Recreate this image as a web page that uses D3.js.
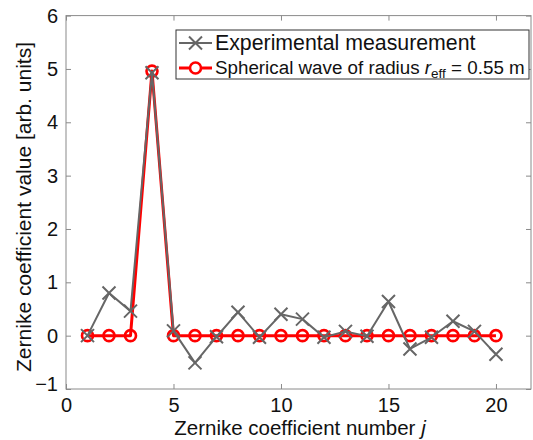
<!DOCTYPE html>
<html>
<head>
<meta charset="utf-8">
<script src="https://cdn.jsdelivr.net/npm/d3@7/dist/d3.min.js"></script>
<style>
  html, body { margin: 0; padding: 0; background: #fff; }
  svg { display: block; font-family: "Liberation Sans", Arial, sans-serif; }
</style>
</head>
<body>
<svg id="chart" width="533" height="440"></svg>
<script>
const j = [1,2,3,4,5,6,7,8,9,10,11,12,13,14,15,16,17,18,19,20];
const experimental = [0.0,0.80,0.46,4.93,0.09,-0.51,-0.02,0.44,-0.03,0.40,0.31,-0.03,0.08,-0.01,0.64,-0.25,-0.03,0.27,0.08,-0.35];
const spherical =    [0,0,0,4.96,0,0,0,0,0,0,0,0,0,0,0,0,0,0,0,0];
const xTicks = [0,5,10,15,20];
const yTicks = [-1,0,1,2,3,4,5,6];
const legendLabels = ["Experimental measurement", "Spherical wave of radius "];

(function () {
const svg = d3.select("#chart");
const pL = 66, pR = 531, pT = 15.6, pB = 389;
const x = d3.scaleLinear().domain([0, 21.63]).range([pL, pR]);
const y = d3.scaleLinear().domain([-1, 6]).range([pB, pT]);
const axisColor = "#8a8a8a";
const gray = "#666666";
const red = "#ff0000";

// frame
svg.append("rect").attr("x", pL).attr("y", pT).attr("width", pR - pL).attr("height", pB - pT)
  .attr("fill", "none").attr("stroke", axisColor).attr("stroke-width", 1);

// axes with inward ticks
const xb = svg.append("g").attr("transform", `translate(0,${pB})`)
  .call(d3.axisBottom(x).tickValues(xTicks).tickSize(-5).tickPadding(9).tickFormat(d3.format("d")));
const xt = svg.append("g").attr("transform", `translate(0,${pT})`)
  .call(d3.axisTop(x).tickValues(xTicks).tickSize(-5).tickFormat(""));
const yl = svg.append("g").attr("transform", `translate(${pL},0)`)
  .call(d3.axisLeft(y).tickValues(yTicks).tickSize(-5).tickPadding(8).tickFormat(d => d < 0 ? "\u2212" + Math.abs(d) : d));
const yr = svg.append("g").attr("transform", `translate(${pR},0)`)
  .call(d3.axisRight(y).tickValues(yTicks).tickSize(-5).tickFormat(""));
[xb, xt, yl, yr].forEach(g => {
  g.select(".domain").remove();
  g.selectAll(".tick line").attr("stroke", axisColor);
  g.selectAll("text").attr("fill", "#111").attr("font-size", 20).attr("font-family", "Liberation Sans, Arial, sans-serif");
});
yl.selectAll(".tick").filter(d => d === -1).select("text").attr("dy", "0.05em");

// spherical (red) series
const lineGen = d3.line().x((d, i) => x(j[i])).y(d => y(d));
svg.append("path").datum(spherical).attr("d", lineGen)
  .attr("fill", "none").attr("stroke", red).attr("stroke-width", 3).attr("stroke-linejoin", "round");
svg.append("g").selectAll("circle").data(spherical).join("circle")
  .attr("cx", (d, i) => x(j[i])).attr("cy", d => y(d)).attr("r", 5.5)
  .attr("fill", "none").attr("stroke", red).attr("stroke-width", 2.6);

// experimental (gray) series
svg.append("path").datum(experimental).attr("d", lineGen)
  .attr("fill", "none").attr("stroke", gray).attr("stroke-width", 2).attr("stroke-linejoin", "round");
const s = 6.5;
svg.append("g").selectAll("path").data(experimental).join("path")
  .attr("d", (d, i) => {
    const cx = x(j[i]), cy = y(d);
    return `M${cx - s},${cy - s}L${cx + s},${cy + s}M${cx - s},${cy + s}L${cx + s},${cy - s}`;
  })
  .attr("fill", "none").attr("stroke", gray).attr("stroke-width", 2);

// axis labels
svg.append("text").attr("x", (x(0) + x(20)) / 2 + 19).attr("y", 435).attr("text-anchor", "middle")
  .attr("font-size", 20.5).attr("fill", "#111")
  .html('Zernike coefficient number <tspan font-style="italic">j</tspan>');
svg.append("text").attr("transform", "translate(31,207) rotate(-90)").attr("text-anchor", "middle")
  .attr("font-size", 21).attr("fill", "#111")
  .text("Zernike coefficient value [arb. units]");

// legend
const lg = svg.append("g");
lg.append("rect").attr("x", 176).attr("y", 30).attr("width", 353).attr("height", 49)
  .attr("fill", "#fff").attr("stroke", "#333").attr("stroke-width", 1);
lg.append("line").attr("x1", 179).attr("x2", 212).attr("y1", 43).attr("y2", 43).attr("stroke", gray).attr("stroke-width", 2);
lg.append("path").attr("d", `M${195.5 - s},${43 - s}L${195.5 + s},${43 + s}M${195.5 - s},${43 + s}L${195.5 + s},${43 - s}`)
  .attr("stroke", gray).attr("stroke-width", 2);
lg.append("text").attr("x", 215).attr("y", 50).attr("font-size", 21.3).attr("fill", "#111").text(legendLabels[0]);
lg.append("line").attr("x1", 179).attr("x2", 212).attr("y1", 68).attr("y2", 68).attr("stroke", red).attr("stroke-width", 3);
lg.append("circle").attr("cx", 195.5).attr("cy", 68).attr("r", 5.5).attr("fill", "#fff").attr("stroke", red).attr("stroke-width", 2.6);
lg.append("text").attr("x", 215).attr("y", 73.5).attr("font-size", 18.8).attr("fill", "#111")
  .html(legendLabels[1] + '<tspan font-style="italic">r</tspan><tspan font-size="13.5" dy="4">eff</tspan><tspan dy="-4"> = 0.55 m</tspan>');
})();
</script>
</body>
</html>
